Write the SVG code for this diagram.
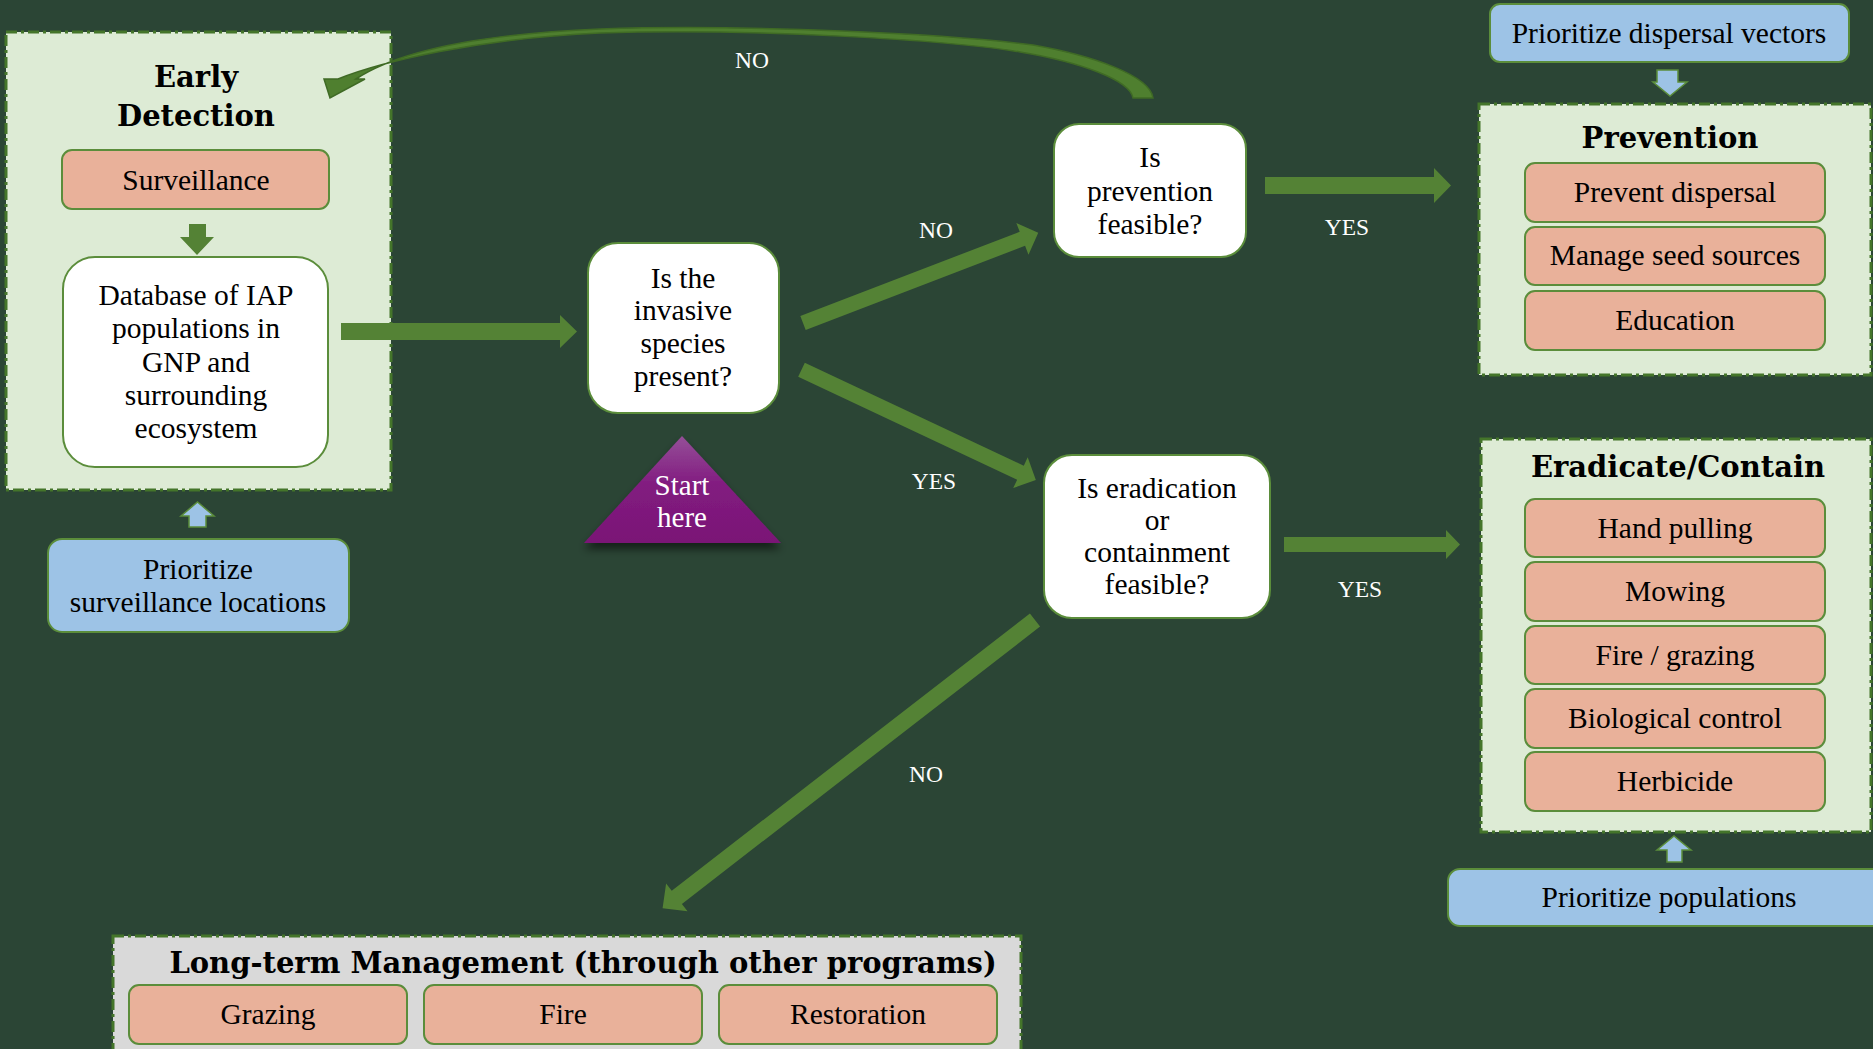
<svg xmlns="http://www.w3.org/2000/svg" width="1873" height="1049" viewBox="0 0 1873 1049">
<defs>
<style>
.grp{fill:#ddebd5;stroke:#44752a;stroke-width:3;stroke-dasharray:11 4 3 4}
.gray{fill:#d9d9d9;stroke:#44752a;stroke-width:3;stroke-dasharray:11 4 3 4}
.sal{fill:#e9b19a;stroke:#5b8d3b;stroke-width:2}
.wht{fill:#ffffff;stroke:#5b8d3b;stroke-width:2}
.blu{fill:#9dc3e6;stroke:#5b8d3b;stroke-width:2}
.t{font-family:"Liberation Serif","Times New Roman",serif;font-size:29.5px;text-anchor:middle;fill:#000}
.h{font-family:"DejaVu Serif","Liberation Serif",serif;font-size:29px;font-weight:bold;text-anchor:middle;fill:#000}
.lbl{font-family:"Liberation Serif","Times New Roman",serif;font-size:23.5px;text-anchor:middle;fill:#fff}
.st{font-family:"Liberation Serif","Times New Roman",serif;font-size:29px;text-anchor:middle;fill:#fff}
.arr{fill:#548235}
.barr{fill:#9dc3e6;stroke:#5b8d3b;stroke-width:1.5}
</style>
<linearGradient id="pg" x1="0" y1="0" x2="0" y2="1">
<stop offset="0" stop-color="#954f98"/>
<stop offset="0.45" stop-color="#821c80"/>
<stop offset="1" stop-color="#7a1576"/>
</linearGradient>
<filter id="sh" x="-20%" y="-20%" width="140%" height="160%">
<feDropShadow dx="0" dy="6" stdDeviation="4" flood-color="#000" flood-opacity="0.55"/>
</filter>
</defs>
<rect width="1873" height="1049" fill="#2b4535"/>

<g id="early-detection">
<rect class="grp" x="6" y="32" width="385" height="458"/>
<text class="h" x="196" y="87">Early</text>
<text class="h" x="196" y="126">Detection</text>
</g>
<g id="surveillance">
<rect class="sal" x="62" y="150" width="267" height="59" rx="10"/>
<text class="t" x="196" y="190">Surveillance</text>
</g>
<g id="database">
<rect class="wht" x="63" y="257" width="265" height="210" rx="32"/>
<text class="t" x="196" y="305">Database of IAP</text>
<text class="t" x="196" y="338">populations in</text>
<text class="t" x="196" y="372">GNP and</text>
<text class="t" x="196" y="405">surrounding</text>
<text class="t" x="196" y="438">ecosystem</text>
</g>
<g id="prioritize-surveillance">
<rect class="blu" x="48" y="539" width="301" height="93" rx="14"/>
<text class="t" x="198" y="579">Prioritize</text>
<text class="t" x="198" y="612">surveillance locations</text>
</g>
<g id="invasive-present">
<rect class="wht" x="588" y="243" width="191" height="170" rx="30"/>
<text class="t" x="683" y="288">Is the</text>
<text class="t" x="683" y="320">invasive</text>
<text class="t" x="683" y="353">species</text>
<text class="t" x="683" y="386">present?</text>
</g>
<g id="start-here">
<polygon points="682,436 584,543 781,543" fill="url(#pg)" filter="url(#sh)"/>
<text class="st" x="682" y="495">Start</text>
<text class="st" x="682" y="527">here</text>
</g>
<g id="prevention-feasible">
<rect class="wht" x="1054" y="124" width="192" height="133" rx="25"/>
<text class="t" x="1150" y="167">Is</text>
<text class="t" x="1150" y="201">prevention</text>
<text class="t" x="1150" y="234">feasible?</text>
</g>
<g id="eradication-feasible">
<rect class="wht" x="1044" y="455" width="226" height="163" rx="28"/>
<text class="t" x="1157" y="498">Is eradication</text>
<text class="t" x="1157" y="530">or</text>
<text class="t" x="1157" y="562">containment</text>
<text class="t" x="1157" y="594">feasible?</text>
</g>
<g id="prioritize-dispersal">
<rect class="blu" x="1490" y="4" width="359" height="58" rx="10"/>
<text class="t" x="1669" y="43">Prioritize dispersal vectors</text>
</g>
<g id="prevention">
<rect class="grp" x="1479" y="104" width="392" height="271"/>
<text class="h" x="1670" y="148">Prevention</text>
<rect class="sal" x="1525" y="163" width="300" height="59" rx="10"/>
<text class="t" x="1675" y="202">Prevent dispersal</text>
<rect class="sal" x="1525" y="227" width="300" height="58" rx="10"/>
<text class="t" x="1675" y="265">Manage seed sources</text>
<rect class="sal" x="1525" y="291" width="300" height="59" rx="10"/>
<text class="t" x="1675" y="330">Education</text>
</g>
<g id="eradicate-contain">
<rect class="grp" x="1481" y="439" width="390" height="393"/>
<text class="h" x="1678" y="477">Eradicate/Contain</text>
<rect class="sal" x="1525" y="499" width="300" height="58" rx="10"/>
<text class="t" x="1675" y="538">Hand pulling</text>
<rect class="sal" x="1525" y="562" width="300" height="59" rx="10"/>
<text class="t" x="1675" y="601">Mowing</text>
<rect class="sal" x="1525" y="626" width="300" height="58" rx="10"/>
<text class="t" x="1675" y="665">Fire / grazing</text>
<rect class="sal" x="1525" y="689" width="300" height="59" rx="10"/>
<text class="t" x="1675" y="728">Biological control</text>
<rect class="sal" x="1525" y="752" width="300" height="59" rx="10"/>
<text class="t" x="1675" y="791">Herbicide</text>
</g>
<g id="prioritize-populations">
<rect class="blu" x="1448" y="869" width="440" height="57" rx="12"/>
<text class="t" x="1669" y="907">Prioritize populations</text>
</g>
<g id="long-term">
<rect class="gray" x="113" y="936" width="908" height="130"/>
<text class="h" x="583" y="973">Long-term Management (through other programs)</text>
<rect class="sal" x="129" y="985" width="278" height="59" rx="10"/>
<text class="t" x="268" y="1024">Grazing</text>
<rect class="sal" x="424" y="985" width="278" height="59" rx="10"/>
<text class="t" x="563" y="1024">Fire</text>
<rect class="sal" x="719" y="985" width="278" height="59" rx="10"/>
<text class="t" x="858" y="1024">Restoration</text>
</g>

<g id="connectors">
<path d="M1153,98 C1150,75 1090,55 1033,45 C950,34 750,24 600,29 C480,34 400,50 356,79 L365,79 L330,98 L324,79 L338,79 C380,62 480,38 600,33 C750,28 950,40 1020,52 C1080,62 1130,80 1133,98 Z" fill="#4f7f2f" stroke="#3f6a25" stroke-width="1.5"/>
<path class="arr" d="M341,323 H560 V315 L577,331.5 L560,348 V340 H341 Z"/>
<path class="arr" d="M1265,177 H1434 V168 L1451,185.5 L1434,203 V194 H1265 Z"/>
<path class="arr" d="M1284,537 H1446 V530 L1460,544.5 L1446,559 V552 H1284 Z"/>
<path class="arr" transform="translate(803,323) rotate(-21)" d="M0,-7.5 H235 V-17 L252,0 L235,17 V7.5 H0 Z"/>
<path class="arr" transform="translate(801.5,369.7) rotate(25.2)" d="M0,-7.8 H242 V-17 L259,0 L242,17 V7.8 H0 Z"/>
<path class="arr" transform="translate(1035,620) rotate(142.25)" d="M0,-8.3 H453 V-17.5 L471,0 L453,17.5 V8.3 H0 Z"/>
<path class="arr" d="M189,224 H206 V237 H214 L197,255 L180,237 H189 Z"/>
<path class="barr" d="M189,527 V516 H181 L197.5,502 L214,516 H206 V527 Z"/>
<path class="barr" d="M1657,70 H1678 V82 H1687 L1670,96 L1653,82 H1657 Z"/>
<path class="barr" d="M1667,862 V850 H1657 L1674,836 L1691,850 H1682 V862 Z"/>
<text class="lbl" x="752" y="68">NO</text>
<text class="lbl" x="936" y="238">NO</text>
<text class="lbl" x="934" y="489">YES</text>
<text class="lbl" x="1347" y="235">YES</text>
<text class="lbl" x="1360" y="597">YES</text>
<text class="lbl" x="926" y="782">NO</text>
</g>
</svg>
